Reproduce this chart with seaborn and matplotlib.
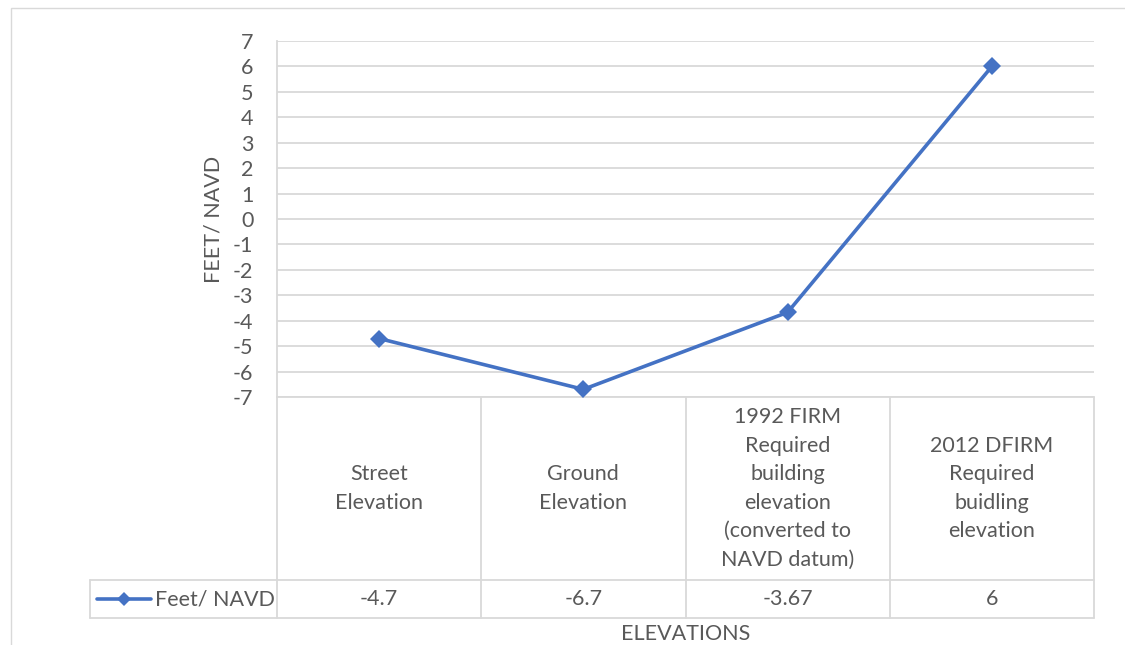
import matplotlib
matplotlib.use("Agg")
import matplotlib.pyplot as plt
from matplotlib.patches import Rectangle
import seaborn as sns
import pandas as pd

# Elevation comparison (feet, NAVD datum)
categories = [
    "Street\nElevation",
    "Ground\nElevation",
    "1992 FIRM\nRequired\nbuilding\nelevation\n(converted to\nNAVD datum)",
    "2012 DFIRM\nRequired\nbuidling\nelevation",
]
values = [-4.7, -6.7, -3.67, 6]
value_labels = ["-4.7", "-6.7", "-3.67", "6"]
series_name = "Feet/ NAVD"
y_ticks = list(range(-7, 8))

sns.set_theme(style="white")
plt.rcParams["font.family"] = ["Lato", "DejaVu Sans"]
plt.rcParams["axes.unicode_minus"] = False

TEXT = "#595959"
GRID = "#d9d9d9"
BLUE = "#4472C4"
FS = 15.5

W, H = 1125, 645
fig = plt.figure(figsize=(W / 100, H / 100), dpi=100)
fig.patch.set_facecolor("white")

# plot area in pixel terms
left, right, top, bottom = 277, 1094, 41, 397
ax = fig.add_axes([left / W, 1 - bottom / H, (right - left) / W, (bottom - top) / H])

df = pd.DataFrame({"pos": range(len(values)), "value": values})
sns.lineplot(data=df, x="pos", y="value", ax=ax, color=BLUE, linewidth=2.6,
             marker="D", markersize=9.5, markeredgewidth=0, zorder=5)

ax.set_xlim(-0.5, len(values) - 0.5)
ax.set_ylim(y_ticks[0], y_ticks[-1])
ax.set_yticks(y_ticks)
ax.set_xticks([])
ax.set_xlabel("")
ax.grid(False)
for yt in y_ticks:
    ax.axhline(yt, color=GRID, linewidth=1.3, zorder=1)
for side in ["top", "right", "bottom"]:
    ax.spines[side].set_visible(False)
ax.spines["left"].set_color(GRID)
ax.spines["left"].set_linewidth(1.3)
ax.tick_params(axis="y", length=0, pad=17, labelsize=FS, labelcolor=TEXT)
ax.set_ylabel("FEET/ NAVD", fontsize=FS, color=TEXT)
ax.yaxis.set_label_coords((224 - left) / (right - left), 0.5)

# data table below the plot
ph = bottom - top
def ay(py):
    return (bottom - py) / ph

row1_bot = ay(580)
row2_bot = ay(618)
leg_left = (90 - left) / (right - left)
xt = ax.get_xaxis_transform()
line_kw = dict(color=GRID, linewidth=1.3, clip_on=False, zorder=2)

ax.plot([-0.5, len(values) - 0.5], [0, 0], transform=xt, **line_kw)
for b in [i - 0.5 for i in range(len(values) + 1)]:
    ax.plot([b, b], [0, row2_bot], transform=xt, **line_kw)
ax.plot([leg_left, 1], [row1_bot, row1_bot], transform=ax.transAxes, **line_kw)
ax.plot([leg_left, 1], [row2_bot, row2_bot], transform=ax.transAxes, **line_kw)
ax.plot([leg_left, leg_left], [row1_bot, row2_bot], transform=ax.transAxes, **line_kw)

for i, (cat, lab) in enumerate(zip(categories, value_labels)):
    ax.text(i, row1_bot / 2, cat, transform=xt, ha="center", va="center",
            fontsize=FS, color=TEXT, linespacing=1.53, clip_on=False)
    ax.text(i, (row1_bot + row2_bot) / 2, lab, transform=xt, ha="center",
            va="center", fontsize=FS, color=TEXT, clip_on=False)

# legend key in the table
ky = (row1_bot + row2_bot) / 2
kx0, kx1 = (97 - left) / (right - left), (151 - left) / (right - left)
ax.plot([kx0, (kx0 + kx1) / 2, kx1], [ky, ky, ky], transform=ax.transAxes,
        color=BLUE, linewidth=2.6, marker="D", markersize=7.5, markevery=[1],
        markeredgewidth=0, clip_on=False, solid_capstyle="round")
ax.text((155 - left) / (right - left), ky, series_name, transform=ax.transAxes,
        ha="left", va="center", fontsize=FS, color=TEXT, clip_on=False)

ax.text(0.5, ay(634), "ELEVATIONS", transform=ax.transAxes, ha="center",
        va="center", fontsize=FS, color=TEXT, clip_on=False)

# chart border
fig.patches.append(Rectangle((11 / W, -0.2), 1.2, 1.2 - 8 / H,
                             transform=fig.transFigure, fill=False,
                             edgecolor=GRID, linewidth=1.0))

fig.savefig("out.png", dpi=100, facecolor="white")
